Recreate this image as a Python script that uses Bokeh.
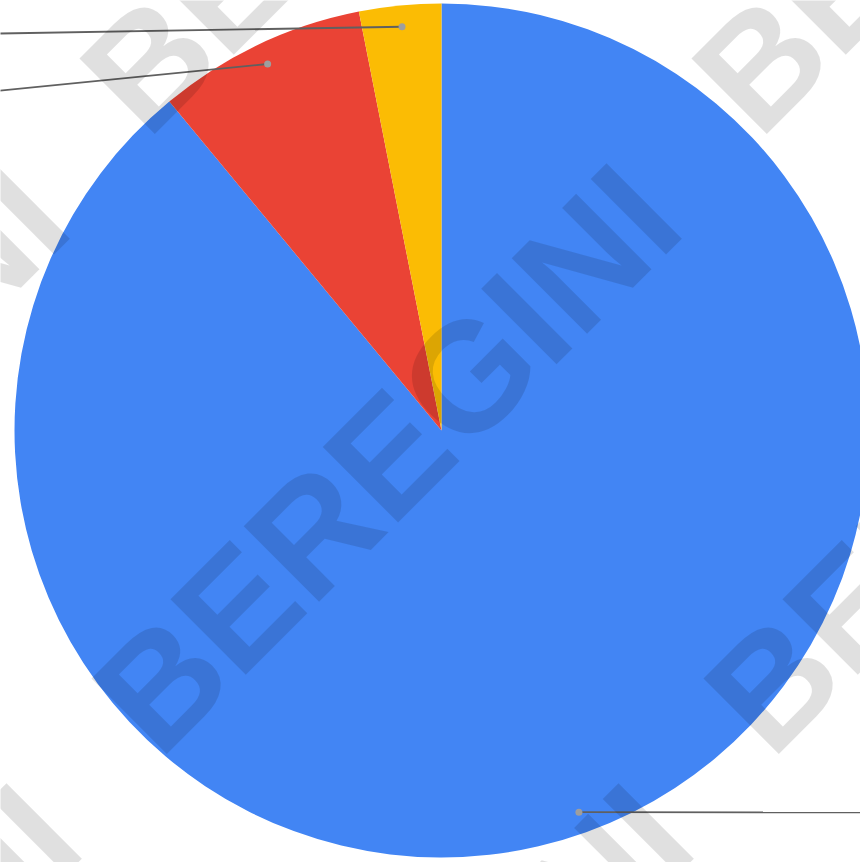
import numpy as np
from bokeh.plotting import figure
from bokeh.models import Range1d, ColumnDataSource
from bokeh.embed import file_html
from bokeh.resources import INLINE
from bokeh.core.properties import value

# ---- data (shares in %, drawn clockwise from 12 o'clock) ----
slice_names = ["Slice 1", "Slice 2", "Slice 3"]
slice_values = [89.0, 7.9, 3.1]
slice_colors = ["#4285F4", "#EA4335", "#FBBC04"]

# watermark text
watermark_text = "BEREGINI"

# ---- layout (pixel-like coordinates, y measured downward) ----
W, H = 860, 862
OFF = 0
CX, CY, R = 441, 430, 427

vals = np.array(slice_values, dtype=float)
frac = vals / vals.sum()
cum_after = np.cumsum(frac)
cum_before = cum_after - frac
start = np.pi / 2 - 2 * np.pi * cum_before
end = np.pi / 2 - 2 * np.pi * cum_after
mid = np.pi / 2 - 2 * np.pi * (cum_before + frac / 2)

src = ColumnDataSource(dict(
    name=slice_names, x=[CX] * 3, y=[-CY] * 3,
    a0=end, a1=start, color=slice_colors,
))

p = figure(width=W, height=H, output_backend="svg", toolbar_location=None,
           x_range=Range1d(OFF, OFF + W), y_range=Range1d(-(OFF + H), -OFF),
           min_border=0, tools="")
p.xaxis.visible = False
p.yaxis.visible = False
p.grid.visible = False
p.outline_line_color = None
p.background_fill_color = "white"
p.border_fill_color = "white"

p.wedge(x="x", y="y", radius=R, start_angle="a0", end_angle="a1",
        direction="anticlock", fill_color="color", line_color=None, source=src)

# leader lines to labels lying outside the visible area
dot_x = CX + 0.95 * R * np.cos(mid)
dot_y = -CY + 0.95 * R * np.sin(mid)
label_end = [(920, -812), (-60, -96), (-60, -34)]
for i in range(3):
    p.line([dot_x[i], label_end[i][0]], [dot_y[i], label_end[i][1]],
           line_color="#606060", line_width=1.8)
p.scatter(dot_x, dot_y, size=7, fill_color="#9e9e9e", line_color=None)

# tiled watermark
wx, wy = [], []
for j in (-1, 0, 1):
    for i in (-1, 0, 1):
        wx.append(386 + 612 * i - 12 * j)
        wy.append(-(458 - 620 * j))
p.text(x=wx, y=wy, text=[watermark_text] * len(wx), angle=np.pi / 4,
       text_font=value("Liberation Sans"), text_font_style="bold",
       text_font_size="155px", text_align="center", text_baseline="middle",
       text_color="black", text_alpha=0.12)

open("out.html", "w").write(file_html(p, INLINE))
